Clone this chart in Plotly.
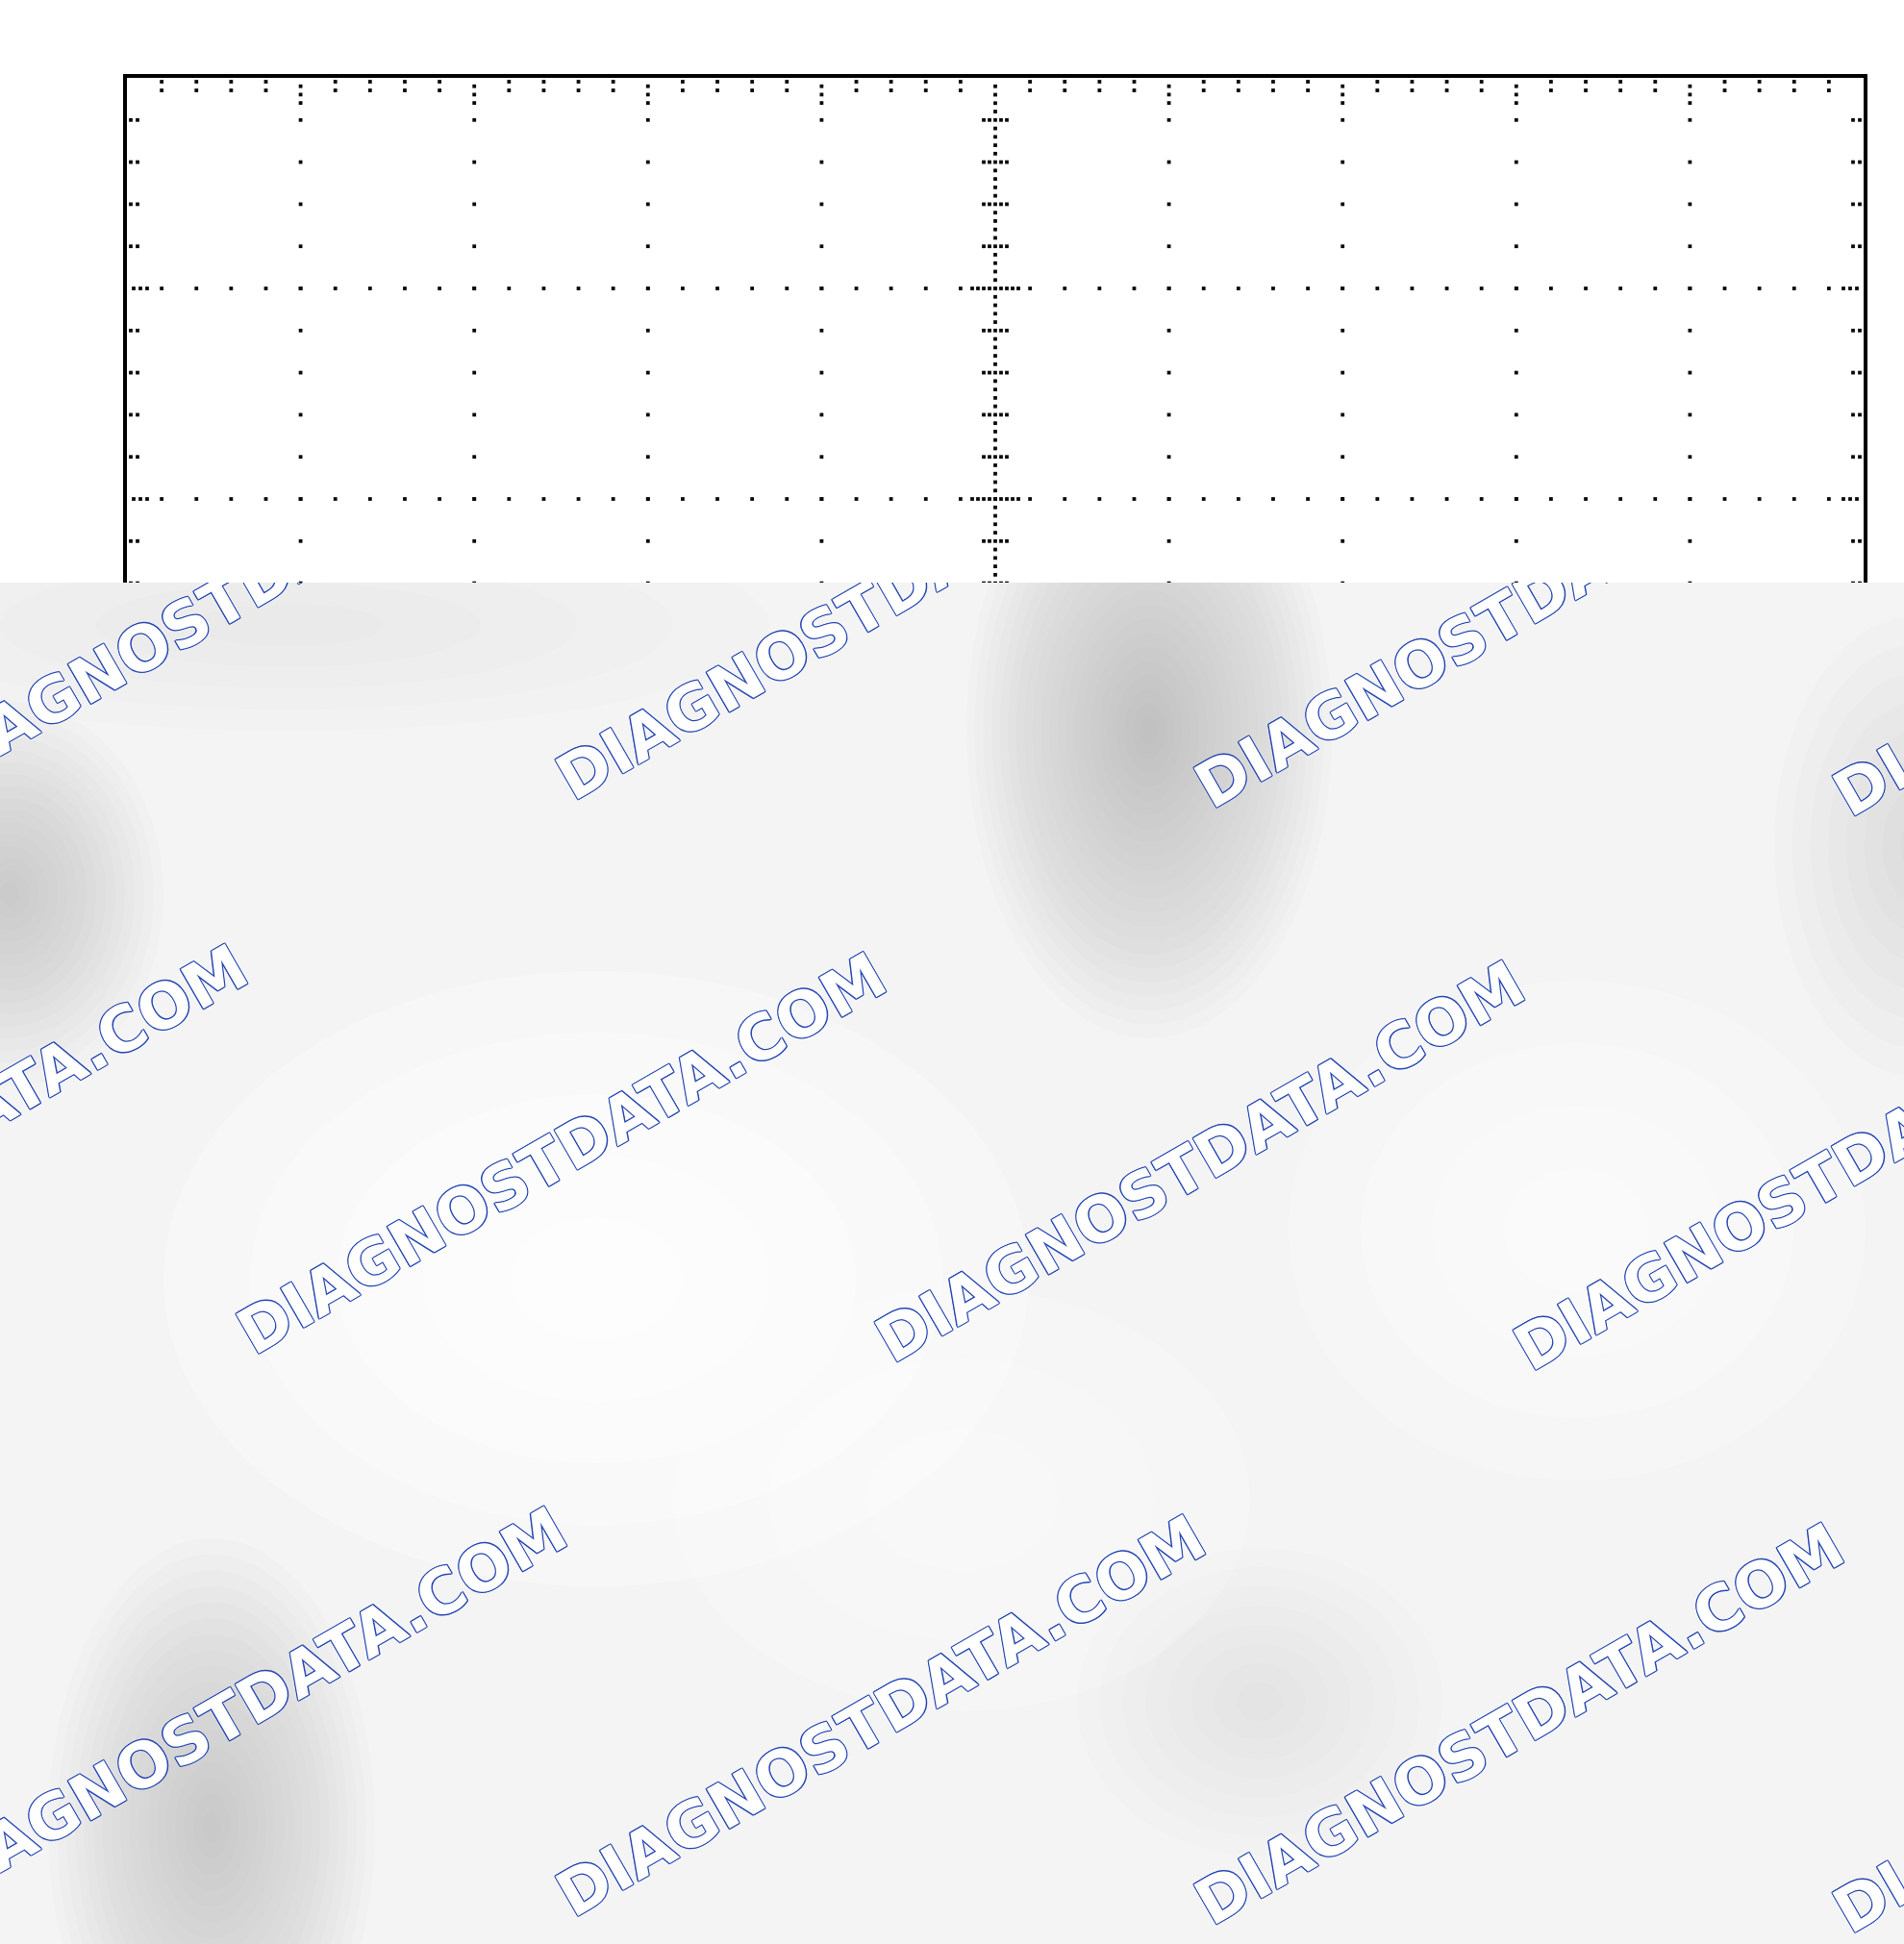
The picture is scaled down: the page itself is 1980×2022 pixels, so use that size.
import plotly.graph_objects as go

W, H = 1980, 2022

# ---------------- graticule specification (screen divisions) ----------------
x_lines = [0, 1, 2, 3, 4, 5, 6, 7, 8, 9, 10]
y_lines = [0, 1, 2, 3, 4, 5, 6, 7, 8]
minor_fracs = [0.0, 0.2, 0.4, 0.6, 0.8]
center_x = 5
micro_per_minor = 5

# ---------------- watermark ----------------
wm_text = "DIAGNOSTDATA.COM"
wm_cols = [-1, 0, 1, 2, 3]
wm_rows = [-1, 0, 1]

# ---------------- background shading blobs ----------------
blob_cx = [1195, 10, 1995, 220, 1310, 300, 620, 1640, 1000]
blob_cy = [760, 930, 880, 1900, 1770, 650, 1330, 1280, 1560]
blob_rx = [190, 160, 150, 170, 190, 500, 450, 300, 300]
blob_ry = [320, 200, 240, 300, 160, 110, 320, 260, 220]
blob_alpha = [0.52, 0.38, 0.20, 0.42, 0.18, 0.12, 0.85, 0.65, 0.45]
blob_gray = [160, 160, 160, 160, 160, 160, 255, 255, 255]

# ---------------- geometry (pixels) ----------------
PX_LEFT, PX_RIGHT, PX_TOP = 132, 1938, 81
DIV_Y_PX = 219
CUT = 606
BASE_GRAY = 244
dx_px = (x_lines[-1] - x_lines[0]) / (PX_RIGHT - PX_LEFT)
dy_px = 1.0 / DIV_Y_PX
y_bottom = (CUT - PX_TOP) / DIV_Y_PX

xs, ys = [], []


def add(x, y):
    xs.append(x)
    ys.append(y)


minor_x = [xv + f for xv in x_lines[:-1] for f in minor_fracs]
minor_y = [yv + f for yv in y_lines[:-1] for f in minor_fracs]

for xv in x_lines[1:-1]:
    if xv == center_x:
        continue
    for y in minor_y:
        if y > 0:
            add(xv, y)
for yv in y_lines[1:-1]:
    for x in minor_x:
        if x > 0:
            add(x, yv)

step = 1.0 / (len(minor_fracs) * micro_per_minor)
for k in range(1, int(round(y_lines[-1] / step))):
    add(center_x, k * step)
for y in minor_y:
    if y > 0 and y not in y_lines:
        for off in (-12, -6, 6, 12):
            add(center_x + off * dx_px, y)
for yv in y_lines[1:-1]:
    for k in (1, 2, 3, 4):
        add(center_x - k * 6 * dx_px, yv)
        add(center_x + k * 6 * dx_px, yv)
    for k in (1, 2, 3):
        add(k * 7 * dx_px, yv)
        add(x_lines[-1] - k * 7 * dx_px, yv)
for y in minor_y:
    if y > 0 and y not in y_lines:
        for off in (4, 11):
            add(off * dx_px, y)
            add(x_lines[-1] - off * dx_px, y)
for x in minor_x:
    if x > 0 and x not in x_lines:
        for off in (4, 13):
            add(x, off * dy_px)
for xv in x_lines[1:-1]:
    if xv == center_x:
        continue
    for k in (1, 2, 3):
        add(xv, k * 8.7 * dy_px)

fig = go.Figure()

fig.add_trace(go.Scatter(
    x=xs, y=ys, mode="markers",
    marker=dict(symbol="square", size=3.8, color="#0a0a0a", line=dict(width=0)),
    hoverinfo="skip", showlegend=False, xaxis="x", yaxis="y",
))

# watermark lattice
C0 = (584, 1200)
A = (664, 8.5)
B = (332, 585)
wx, wy = [], []
for j in wm_rows:
    for i in wm_cols:
        wx.append(C0[0] + i * A[0] + j * B[0])
        wy.append(C0[1] + i * A[1] + j * B[1])
n = len(wx)
blue = "#2446b4"
offs = [(1, 0), (-1, 0), (0, 1), (0, -1), (1, 1), (-1, -1), (1, -1), (-1, 1)]
shadow = ", ".join(f"{a}px {b}px 0 {blue}" for a, b in offs)
fig.add_trace(go.Bar(
    x=wx, y=[6] * n, base=[v - 3 for v in wy], width=6,
    text=[wm_text] * n, textposition="inside", insidetextanchor="middle",
    textangle=-30, constraintext="none", cliponaxis=True,
    insidetextfont=dict(family="DejaVu Sans", size=65, color="#ffffff",
                        weight="bold", shadow=shadow),
    marker=dict(color="rgba(0,0,0,0)", line=dict(width=0)),
    hoverinfo="skip", showlegend=False, xaxis="x2", yaxis="y2",
))

shapes = [dict(type="rect", xref="x2", yref="y2", x0=0, x1=W, y0=CUT, y1=H,
               fillcolor=f"rgb({BASE_GRAY},{BASE_GRAY},{BASE_GRAY})",
               line=dict(width=0), layer="below")]
for cx, cy, rx, ry, al, g in zip(blob_cx, blob_cy, blob_rx, blob_ry, blob_alpha, blob_gray):
    levels = abs(BASE_GRAY - g) * al
    N = int(max(3, min(24, round(levels / 2.0))))
    a_layer = 1 - (1 - al) ** (1.0 / N)
    for k in range(N, 0, -1):
        s = k / N
        shapes.append(dict(type="circle", xref="x2", yref="y2",
                           x0=cx - rx * s, x1=cx + rx * s, y0=cy - ry * s, y1=cy + ry * s,
                           fillcolor=f"rgba({g},{g},{g},{a_layer:.4f})", line=dict(width=0),
                           layer="below"))

fig.update_layout(
    width=W, height=H, margin=dict(l=0, r=0, t=0, b=0),
    paper_bgcolor="white", plot_bgcolor="white",
    barmode="overlay", showlegend=False,
    xaxis=dict(domain=[PX_LEFT / W, PX_RIGHT / W], range=[0, 10], side="top",
               showline=True, linewidth=4, linecolor="black", mirror=False,
               showgrid=False, zeroline=False, showticklabels=False, ticks="",
               fixedrange=True),
    yaxis=dict(domain=[1 - CUT / H, 1 - PX_TOP / H], range=[y_bottom, 0],
               showline=True, linewidth=3.5, linecolor="black", mirror=True,
               showgrid=False, zeroline=False, showticklabels=False, ticks="",
               fixedrange=True),
    xaxis2=dict(domain=[0, 1], range=[0, W], visible=False, fixedrange=True,
                anchor="y2"),
    yaxis2=dict(domain=[0, 1 - CUT / H], range=[H, CUT], visible=False,
                fixedrange=True, anchor="x2"),
    shapes=shapes,
)

fig.write_html("out.html", config={"displayModeBar": False},
               post_script="document.body.style.margin='0';document.body.style.overflow='hidden';")
